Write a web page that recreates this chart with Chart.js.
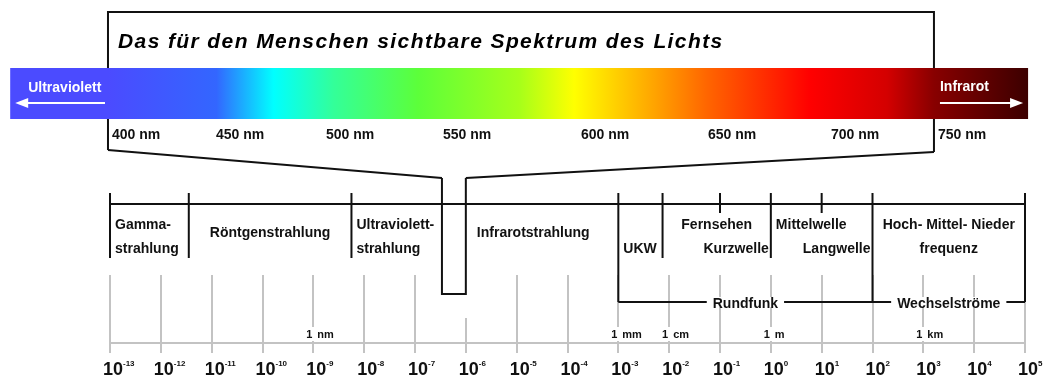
<!DOCTYPE html>
<html lang="de">
<head>
<meta charset="utf-8">
<title>Elektromagnetisches Spektrum</title>
<script src="https://cdn.jsdelivr.net/npm/chart.js"></script>
<style>
html,body{margin:0;padding:0;background:#fff;overflow:hidden}
canvas{display:block}
</style>
</head>
<body>
<canvas id="c" width="1043" height="381" style="width:1043px;height:381px"></canvas>
<script>
// ================= DATA =================
const titleText = 'Das für den Menschen sichtbare Spektrum des Lichts';

// visible spectrum (nm)
const spectrumTicksNm = [400, 450, 500, 550, 600, 650, 700, 750];
const spectrumTickLabels = ['400 nm', '450 nm', '500 nm', '550 nm', '600 nm', '650 nm', '700 nm', '750 nm'];
const visibleLimitsNm = [400, 750];
const spectrumBandNm = [353, 794];
const spectrumStopsNm = [353, 400, 452, 478, 505, 541, 579, 599, 630, 651, 693, 728, 750, 794];
const spectrumStopColors = ['#4b4bff', '#4b4bff', '#3366ff', '#00ffff', '#33ff99', '#5cff3a', '#a6ff1a',
                            '#ffff00', '#ffa500', '#ff6600', '#ff0000', '#d40000', '#880000', '#3c0000'];
const outerBandLabels = ['Ultraviolett', 'Infrarot'];

// wavelength axis (log10 of wavelength in m)
const decades = [-13, -12, -11, -10, -9, -8, -7, -6, -5, -4, -3, -2, -1, 0, 1, 2, 3, 4, 5];
const unitDecades = [-9, -3, -2, 0, 3];
const unitLabels = ['1 nm', '1 mm', '1 cm', '1 m', '1 km'];

// regions of the electromagnetic spectrum (boundaries in log10 m)
const regionEdges = [-13, -11.45, -8.25, -6.47, -6, -3, -2.13, 0, 2, 5];
const regionLabels = [
  ['Gamma-', 'strahlung'],
  ['Röntgenstrahlung'],
  ['Ultraviolett-', 'strahlung'],
  [],
  ['Infrarotstrahlung'],
  ['UKW'],
  ['Fernsehen', 'Kurzwelle'],
  ['Mittelwelle', 'Langwelle'],
  ['Hoch- Mittel- Nieder', 'frequenz']
];
const visibleDecades = [-6.47, -6];
const subDivisions = [-1, 1];
const groupEdges = [-3, 2, 5];
const groupLabels = ['Rundfunk', 'Wechselströme'];

// ================= STYLE / LAYOUT =================
const INK = '#111111';
const GRID = '#c3c3c3';
const FONT = '"Liberation Sans", Arial, Helvetica, sans-serif';
// rows of the drawing (y scale units)
const R = {frameTop: 12, frameBottomL: 150, frameBottomR: 152, band: 93.5, notchTop: 178, notchBottom: 294,
           ruleTop: 193, rule: 204, minorBottom: 213, regionBottom: 258, group: 302, shortGrid: 318};
// text layout of region labels: [align, row] per line (row 0 = upper, 1 = lower, 0.35 = single line)
const regionTextLayout = [
  [['left', 0], ['left', 1]],
  [['center', 0.35]],
  [['left', 0], ['left', 1]],
  [],
  [['left-wide', 0.35]],
  [['left', 1]],
  [['center', 0], ['right', 1]],
  [['left', 0], ['right', 1]],
  [['center', 0], ['center', 1]]
];

// Non-uniform spectrum axis of the original (label values -> fraction of axis width)
class WarpScale extends Chart.LinearScale {
  getPixelForValue(value) {
    if (value === null || value === undefined || isNaN(value)) return NaN;
    const A = this.options.warp;
    let i = 0;
    while (i < A.length - 2 && value > A[i + 1][0]) i++;
    const [v0, f0] = A[i], [v1, f1] = A[i + 1];
    const f = f0 + (value - v0) * (f1 - f0) / (v1 - v0);
    return this.left + f * this.width;
  }
  getValueForPixel(pixel) {
    const A = this.options.warp;
    const f = (pixel - this.left) / this.width;
    let i = 0;
    while (i < A.length - 2 && f > A[i + 1][1]) i++;
    const [v0, f0] = A[i], [v1, f1] = A[i + 1];
    return v0 + (f - f0) * (v1 - v0) / (f1 - f0);
  }
}
WarpScale.id = 'warp';
WarpScale.defaults = Chart.LinearScale.defaults;
Chart.register(WarpScale);

const warpFractions = [-0.0022, 0.1115, 0.2317, 0.3596, 0.5104, 0.6492, 0.7836, 0.9005];

// ================= DATASETS =================
function polylines(list) {
  const out = [];
  list.forEach(pl => {
    pl.forEach(p => out.push({x: p[0], y: p[1]}));
    out.push({x: pl[pl.length - 1][0], y: null});
  });
  return out;
}
const inNotch = v => v >= visibleDecades[0] - 0.01 && v <= visibleDecades[1] + 0.01;

const structure = [];
structure.push([[decades[0], R.rule], [decades[decades.length - 1], R.rule]]);
regionEdges.forEach(e => {
  if (visibleDecades.includes(e)) return;
  const bottom = groupEdges.includes(e) ? R.group : R.regionBottom;
  structure.push([[e, R.ruleTop], [e, bottom]]);
});
subDivisions.forEach(s => structure.push([[s, R.ruleTop], [s, R.minorBottom]]));
structure.push([[groupEdges[0], R.group], [groupEdges[groupEdges.length - 1], R.group]]);
structure.push([[visibleDecades[0], R.notchTop], [visibleDecades[0], R.notchBottom],
                [visibleDecades[1], R.notchBottom], [visibleDecades[1], R.notchTop]]);

const frame = [[visibleLimitsNm[0], R.frameBottomL], [visibleLimitsNm[0], R.frameTop],
               [visibleLimitsNm[1], R.frameTop], [visibleLimitsNm[1], R.frameBottomR]];

function spectrumGradient(c) {
  const ch = c.chart, s = ch.scales.nm;
  if (!s || !ch.chartArea) return '#888';
  const x0 = s.getPixelForValue(spectrumBandNm[0]), x1 = s.getPixelForValue(spectrumBandNm[1]);
  const g = ch.ctx.createLinearGradient(x0, 0, x1, 0);
  spectrumStopsNm.forEach((nm, i) => {
    const t = Math.min(1, Math.max(0, (s.getPixelForValue(nm) - x0) / (x1 - x0)));
    g.addColorStop(t, spectrumStopColors[i]);
  });
  return g;
}

// ================= ANNOTATION PLUGIN =================
const annotations = {
  id: 'annotations',
  afterDatasetsDraw(chart) {
    const {ctx} = chart;
    const X = v => chart.scales.x.getPixelForValue(v);
    const N = v => chart.scales.nm.getPixelForValue(v);
    const Y = v => chart.scales.y.getPixelForValue(v);
    ctx.save();

    // funnel from the spectrum frame to the visible range
    ctx.strokeStyle = INK; ctx.lineWidth = 2; ctx.lineCap = 'butt';
    ctx.beginPath();
    ctx.moveTo(N(visibleLimitsNm[0]), Y(R.frameBottomL));
    ctx.lineTo(X(visibleDecades[0]), Y(R.notchTop));
    ctx.moveTo(X(visibleDecades[1]), Y(R.notchTop));
    ctx.lineTo(N(visibleLimitsNm[1]), Y(R.frameBottomR));
    ctx.stroke();

    // short grid line below the notch
    ctx.strokeStyle = GRID;
    decades.filter(inNotch).forEach(d => {
      const px = Math.round(X(d));
      ctx.beginPath(); ctx.moveTo(px, Y(R.shortGrid)); ctx.lineTo(px, chart.chartArea.bottom); ctx.stroke();
    });

    // unit labels (1 nm, 1 mm ...)
    ctx.font = 'bold 11px ' + FONT;
    ctx.textBaseline = 'alphabetic';
    unitDecades.forEach((d, i) => {
      const px = X(d);
      ctx.fillStyle = '#fff';
      ctx.fillRect(px - 2, 327, 4, 14);
      const parts = unitLabels[i].split(' ');
      ctx.fillStyle = INK;
      ctx.textAlign = 'right'; ctx.fillText(parts[0], px - 1, 338);
      ctx.textAlign = 'left'; ctx.fillText(parts[1], px + 4, 338);
    });

    // group labels on the bracket
    ctx.font = 'bold 14px ' + FONT;
    groupLabels.forEach((t, i) => {
      const cx = (X(groupEdges[i]) + X(groupEdges[i + 1])) / 2;
      const w = ctx.measureText(t).width;
      ctx.fillStyle = '#fff';
      ctx.fillRect(cx - w / 2 - 6, Y(R.group) - 5, w + 12, 10);
      ctx.fillStyle = INK; ctx.textAlign = 'center';
      ctx.fillText(t, cx, Y(R.group) + 6);
    });

    // region labels
    const rows = [229, 253];
    regionLabels.forEach((lines, i) => {
      const a = X(regionEdges[i]), b = X(regionEdges[i + 1]);
      lines.forEach((t, j) => {
        const [align, row] = regionTextLayout[i][j];
        const yy = rows[0] + row * (rows[1] - rows[0]);
        let xx;
        if (align === 'left') { ctx.textAlign = 'left'; xx = a + 5; }
        else if (align === 'left-wide') { ctx.textAlign = 'left'; xx = a + 11; }
        else if (align === 'right') { ctx.textAlign = 'right'; xx = b - 2; }
        else { ctx.textAlign = 'center'; xx = (a + b) / 2; }
        ctx.fillStyle = INK;
        ctx.fillText(t, xx, yy);
      });
    });

    // spectrum labels
    ctx.textAlign = 'left';
    spectrumTicksNm.forEach((v, i) => ctx.fillText(spectrumTickLabels[i], N(v) + 4, 139));

    // Ultraviolett / Infrarot with arrows (white)
    ctx.fillStyle = '#fff'; ctx.strokeStyle = '#fff'; ctx.lineWidth = 2;
    const bandL = N(spectrumBandNm[0]), bandR = N(spectrumBandNm[1]);
    const boxL = N(visibleLimitsNm[0]), boxR = N(visibleLimitsNm[1]);
    ctx.textAlign = 'left';
    ctx.fillText(outerBandLabels[0], bandL + 18, 92);
    ctx.fillText(outerBandLabels[1], boxR + 6, 91);
    ctx.beginPath(); ctx.moveTo(bandL + 14, 103); ctx.lineTo(boxL - 3, 103); ctx.stroke();
    ctx.beginPath(); ctx.moveTo(bandL + 5, 103); ctx.lineTo(bandL + 18, 98); ctx.lineTo(bandL + 18, 108); ctx.closePath(); ctx.fill();
    ctx.beginPath(); ctx.moveTo(boxR + 6, 103); ctx.lineTo(bandR - 14, 103); ctx.stroke();
    ctx.beginPath(); ctx.moveTo(bandR - 5, 103); ctx.lineTo(bandR - 18, 98); ctx.lineTo(bandR - 18, 108); ctx.closePath(); ctx.fill();

    // title
    ctx.fillStyle = '#000';
    ctx.font = 'italic bold 21px ' + FONT;
    try { ctx.letterSpacing = '1.4px'; } catch (e) {}
    ctx.fillText(titleText, boxL + 10, 48);
    try { ctx.letterSpacing = '0px'; } catch (e) {}

    ctx.restore();
  },
  afterDraw(chart) {
    const {ctx} = chart;
    const X = v => chart.scales.x.getPixelForValue(v);
    ctx.save();
    ctx.fillStyle = INK; ctx.textAlign = 'left'; ctx.textBaseline = 'alphabetic';
    decades.forEach(d => {
      const px = X(d);
      ctx.font = 'bold 18px ' + FONT;
      ctx.fillText('10', px - 7, 375);
      ctx.font = 'bold 8px ' + FONT;
      ctx.fillText((d < 0 ? '-' : '') + Math.abs(d), px + 13, 366);
    });
    ctx.restore();
  }
};

// ================= CHART =================
new Chart(document.getElementById('c'), {
  type: 'line',
  data: {
    datasets: [
      {
        label: 'Spektrum',
        xAxisID: 'nm',
        data: [{x: spectrumBandNm[0], y: R.band}, {x: spectrumBandNm[1], y: R.band}],
        borderColor: spectrumGradient,
        borderWidth: 51,
        borderCapStyle: 'butt',
        pointRadius: 0,
        clip: false
      },
      {
        label: 'Rahmen',
        xAxisID: 'nm',
        data: polylines([frame]),
        borderColor: INK,
        borderWidth: 2,
        pointRadius: 0,
        borderJoinStyle: 'miter',
        clip: false
      },
      {
        label: 'Bereiche',
        xAxisID: 'x',
        data: polylines(structure),
        borderColor: INK,
        borderWidth: 2,
        pointRadius: 0,
        borderJoinStyle: 'miter',
        spanGaps: false,
        clip: false
      }
    ]
  },
  options: {
    responsive: false,
    animation: false,
    devicePixelRatio: 1,
    events: [],
    layout: {padding: {left: 110, right: 18, top: 275, bottom: 28}},
    plugins: {legend: {display: false}, tooltip: {enabled: false}},
    elements: {line: {tension: 0}},
    scales: {
      x: {
        type: 'linear', position: 'bottom', min: decades[0], max: decades[decades.length - 1],
        ticks: {display: false, stepSize: 1},
        grid: {
          drawOnChartArea: true, drawTicks: true, tickLength: 10, lineWidth: 2,
          color: c => (c.tick && inNotch(c.tick.value)) ? 'rgba(0,0,0,0)' : GRID,
          tickColor: GRID
        },
        border: {display: true, color: GRID, width: 2}
      },
      nm: {
        type: 'warp', position: 'bottom', display: false, min: 340, max: 800,
        warp: spectrumTicksNm.map((v, i) => [v, warpFractions[i]])
      },
      y: {type: 'linear', min: 275, max: 343, reverse: true, display: false}
    }
  },
  plugins: [annotations]
});
</script>
</body>
</html>
